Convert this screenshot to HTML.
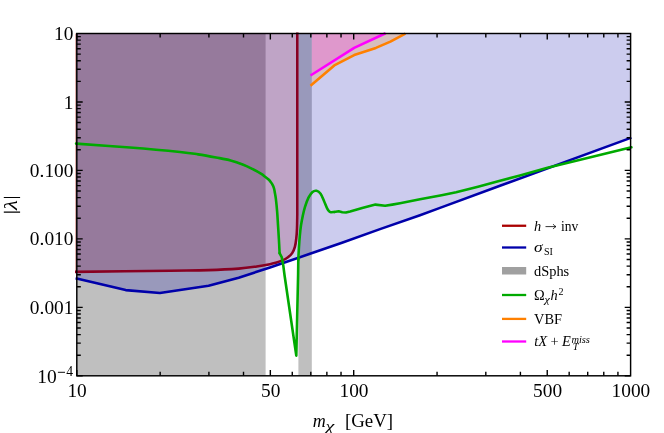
<!DOCTYPE html>
<html><head><meta charset="utf-8"><title>plot</title>
<style>html,body{margin:0;padding:0;background:#fff;}body{width:664px;height:433px;position:relative;overflow:hidden;font-family:"Liberation Serif",serif;}</style></head>
<body>
<svg width="664" height="433" viewBox="0 0 664 433" style="position:absolute;left:0;top:0;will-change:transform">
<defs><clipPath id="cp"><rect x="74.80" y="33.50" width="555.80" height="342.30"/></clipPath></defs>
<g clip-path="url(#cp)">
<rect x="76.80" y="33.50" width="188.80" height="342.30" fill="#808080" fill-opacity="0.5"/>
<rect x="298.40" y="33.50" width="13.40" height="342.30" fill="#808080" fill-opacity="0.5"/>
<rect x="75.05" y="33.10" width="1.75" height="238.40" fill="#dcaca8"/>
<path d="M76.80 271.90 C92.33 271.70 148.03 271.00 170.00 270.70 C191.97 270.40 197.15 270.45 208.60 270.10 C220.05 269.75 230.68 269.20 238.70 268.60 C246.72 268.00 251.48 267.23 256.70 266.50 C261.92 265.77 266.87 264.82 270.00 264.20 C273.13 263.58 273.42 263.43 275.50 262.80 C277.58 262.17 280.42 261.33 282.50 260.40 C284.58 259.47 286.38 258.42 288.00 257.20 C289.62 255.98 291.05 254.82 292.20 253.10 C293.35 251.38 294.22 249.33 294.90 246.90 C295.58 244.47 295.95 241.50 296.30 238.50 C296.65 235.50 296.83 232.82 297.00 228.90 C297.17 224.98 297.25 217.32 297.30 215.00 L297.30 31.50 L76.80 31.50 Z" fill="#aa0000" fill-opacity="0.2"/>
<path d="M76.60 278.40 L125.70 290.10 L159.90 293.00 L208.60 285.80 L238.70 277.70 L270.00 267.50 L310.00 253.80 L342.00 242.80 L380.00 229.10 L420.00 215.20 L440.00 207.85 L500.00 185.70 L631.40 137.60 L632.60 31.50 L76.60 31.50 Z" fill="#0000aa" fill-opacity="0.2"/>
<path d="M311.80 85.00 L334.30 65.40 L354.20 55.10 L375.90 47.90 L390.40 41.60 L405.40 33.60 L311.80 31.50 Z" fill="#ff8000" fill-opacity="0.2"/>
<path d="M311.80 74.80 L354.20 47.90 L385.60 33.20 L311.80 31.50 Z" fill="#ff00ff" fill-opacity="0.2"/>
</g>
<path d="M75.00 271.90 C90.83 271.70 147.73 271.00 170.00 270.70 C192.27 270.40 197.15 270.45 208.60 270.10 C220.05 269.75 230.68 269.20 238.70 268.60 C246.72 268.00 251.48 267.23 256.70 266.50 C261.92 265.77 266.87 264.82 270.00 264.20 C273.13 263.58 273.42 263.43 275.50 262.80 C277.58 262.17 280.42 261.33 282.50 260.40 C284.58 259.47 286.38 258.42 288.00 257.20 C289.62 255.98 291.05 254.82 292.20 253.10 C293.35 251.38 294.22 249.33 294.90 246.90 C295.58 244.47 295.95 241.50 296.30 238.50 C296.65 235.50 296.83 232.82 297.00 228.90 C297.17 224.98 297.25 217.32 297.30 215.00 L297.30 32.40" stroke="#880022" fill="none" stroke-width="2.6" stroke-linejoin="round"/>
<path d="M75.60 278.30 L125.70 290.10 L159.90 293.00 L208.60 285.80 L238.70 277.70 L270.00 267.50 L310.00 253.80 L342.00 242.80 L380.00 229.10 L420.00 215.20 L440.00 207.85 L500.00 185.70 L631.40 137.60" stroke="#0000aa" fill="none" stroke-width="2.6" stroke-linejoin="round"/>
<path d="M76.10 143.65 C85.08 144.29 112.68 146.11 130.00 147.50 C147.32 148.89 168.65 150.85 180.00 152.00 C191.35 153.15 192.08 153.48 198.10 154.40 C204.12 155.32 210.68 156.50 216.10 157.50 C221.52 158.50 226.07 159.20 230.60 160.40 C235.13 161.60 239.68 163.28 243.30 164.70 C246.92 166.12 249.30 167.37 252.30 168.90 C255.30 170.43 259.28 172.68 261.30 173.90 C263.32 175.12 263.18 175.27 264.40 176.20 C265.62 177.13 267.60 178.60 268.60 179.50 C269.60 180.40 269.80 180.82 270.40 181.60 C271.00 182.38 271.60 183.08 272.20 184.20 C272.80 185.32 273.55 186.83 274.00 188.30 C274.45 189.77 274.58 191.20 274.90 193.00 C275.22 194.80 275.53 196.08 275.90 199.10 C276.27 202.12 276.75 206.78 277.10 211.10 C277.45 215.42 277.70 220.27 278.00 225.00 C278.30 229.73 278.63 234.80 278.90 239.50 C279.17 244.20 279.48 250.92 279.60 253.20" stroke="#00aa00" stroke-linecap="round" fill="none" stroke-width="2.6" stroke-linejoin="round"/>
<path d="M279.60 253.20 L281.80 257.40 L283.20 264.90 L284.50 275.00 L296.30 355.60 L298.10 275.00 L298.30 259.60" stroke="#00aa00" stroke-linecap="round" fill="none" stroke-width="2.6" stroke-linejoin="round"/>
<path d="M298.30 259.60 C298.40 257.68 298.65 252.03 298.90 248.10 C299.15 244.17 299.45 239.78 299.80 236.00 C300.15 232.22 300.52 228.70 301.00 225.40 C301.48 222.10 302.03 219.28 302.70 216.20 C303.37 213.12 304.03 209.98 305.00 206.90 C305.97 203.82 307.25 200.20 308.50 197.70 C309.75 195.20 311.15 193.05 312.50 191.90 C313.85 190.75 315.25 190.50 316.60 190.80 C317.95 191.10 319.35 191.97 320.60 193.70 C321.85 195.43 323.03 198.80 324.10 201.20 C325.17 203.60 326.15 206.40 327.00 208.10 C327.85 209.80 328.57 210.72 329.20 211.40 C329.83 212.08 329.97 212.10 330.80 212.20 C331.63 212.30 333.63 212.03 334.20 212.00" stroke="#00aa00" stroke-linecap="round" fill="none" stroke-width="2.6" stroke-linejoin="round"/>
<path d="M334.20 212.00 L338.70 211.30 L342.30 212.20 L345.90 212.50 L350.10 211.50 L362.20 208.00 L375.40 204.60 L385.10 205.80 L392.30 204.60 L400.00 203.20 L420.00 199.30 L441.60 195.20 L456.10 192.30 L478.00 186.70 L500.00 180.80 L520.00 175.40 L547.50 167.80 L629.40 147.80 L631.40 147.30" stroke="#00aa00" stroke-linecap="round" fill="none" stroke-width="2.6" stroke-linejoin="round"/>
<path d="M310.50 85.80 L334.30 65.40 L354.20 55.10 L375.90 47.90 L390.40 41.60 L405.40 33.60" stroke="#ff8000" fill="none" stroke-width="2.6" stroke-linejoin="round"/>
<path d="M310.50 75.50 L354.20 47.90 L385.60 33.20" stroke="#ff00ff" fill="none" stroke-width="2.6" stroke-linejoin="round"/>
<path d="M76.80 375.80v-5.90M76.80 33.50v5.90M160.16 375.80v-4.00M160.16 33.50v4.00M208.91 375.80v-4.00M208.91 33.50v4.00M243.51 375.80v-4.00M243.51 33.50v4.00M270.34 375.80v-5.90M270.34 33.50v5.90M292.27 375.80v-4.00M292.27 33.50v4.00M310.81 375.80v-4.00M310.81 33.50v4.00M326.87 375.80v-4.00M326.87 33.50v4.00M341.03 375.80v-4.00M341.03 33.50v4.00M353.70 375.80v-5.90M353.70 33.50v5.90M437.06 375.80v-4.00M437.06 33.50v4.00M485.81 375.80v-4.00M485.81 33.50v4.00M520.41 375.80v-4.00M520.41 33.50v4.00M547.24 375.80v-5.90M547.24 33.50v5.90M569.17 375.80v-4.00M569.17 33.50v4.00M587.71 375.80v-4.00M587.71 33.50v4.00M603.77 375.80v-4.00M603.77 33.50v4.00M617.93 375.80v-4.00M617.93 33.50v4.00M76.80 375.80h5.90M630.60 375.80h-5.90M76.80 355.19h4.00M630.60 355.19h-4.00M76.80 343.14h4.00M630.60 343.14h-4.00M76.80 334.58h4.00M630.60 334.58h-4.00M76.80 327.95h4.00M630.60 327.95h-4.00M76.80 322.53h4.00M630.60 322.53h-4.00M76.80 317.94h4.00M630.60 317.94h-4.00M76.80 313.97h4.00M630.60 313.97h-4.00M76.80 310.47h4.00M630.60 310.47h-4.00M76.80 307.34h5.90M630.60 307.34h-5.90M76.80 286.73h4.00M630.60 286.73h-4.00M76.80 274.68h4.00M630.60 274.68h-4.00M76.80 266.12h4.00M630.60 266.12h-4.00M76.80 259.49h4.00M630.60 259.49h-4.00M76.80 254.07h4.00M630.60 254.07h-4.00M76.80 249.48h4.00M630.60 249.48h-4.00M76.80 245.51h4.00M630.60 245.51h-4.00M76.80 242.01h4.00M630.60 242.01h-4.00M76.80 238.88h5.90M630.60 238.88h-5.90M76.80 218.27h4.00M630.60 218.27h-4.00M76.80 206.22h4.00M630.60 206.22h-4.00M76.80 197.66h4.00M630.60 197.66h-4.00M76.80 191.03h4.00M630.60 191.03h-4.00M76.80 185.61h4.00M630.60 185.61h-4.00M76.80 181.02h4.00M630.60 181.02h-4.00M76.80 177.05h4.00M630.60 177.05h-4.00M76.80 173.55h4.00M630.60 173.55h-4.00M76.80 170.42h5.90M630.60 170.42h-5.90M76.80 149.81h4.00M630.60 149.81h-4.00M76.80 137.76h4.00M630.60 137.76h-4.00M76.80 129.20h4.00M630.60 129.20h-4.00M76.80 122.57h4.00M630.60 122.57h-4.00M76.80 117.15h4.00M630.60 117.15h-4.00M76.80 112.56h4.00M630.60 112.56h-4.00M76.80 108.59h4.00M630.60 108.59h-4.00M76.80 105.09h4.00M630.60 105.09h-4.00M76.80 101.96h5.90M630.60 101.96h-5.90M76.80 81.35h4.00M630.60 81.35h-4.00M76.80 69.30h4.00M630.60 69.30h-4.00M76.80 60.74h4.00M630.60 60.74h-4.00M76.80 54.11h4.00M630.60 54.11h-4.00M76.80 48.69h4.00M630.60 48.69h-4.00M76.80 44.10h4.00M630.60 44.10h-4.00M76.80 40.13h4.00M630.60 40.13h-4.00M76.80 36.63h4.00M630.60 36.63h-4.00" stroke="#000" stroke-width="1.4" fill="none"/>
<rect x="76.80" y="33.50" width="553.80" height="342.30" fill="none" stroke="#000" stroke-width="1.45"/>
<g font-family="Liberation Serif, serif" font-size="19.5" fill="#000" opacity="0.999"><text transform="translate(77.10,397.10) scale(0.975,1)" text-anchor="middle" font-size="19.85">10</text><text transform="translate(270.64,397.10) scale(0.975,1)" text-anchor="middle" font-size="19.85">50</text><text transform="translate(354.00,397.10) scale(0.975,1)" text-anchor="middle" font-size="19.85">100</text><text transform="translate(547.54,397.10) scale(0.975,1)" text-anchor="middle" font-size="19.85">500</text><text transform="translate(630.90,397.10) scale(0.975,1)" text-anchor="middle" font-size="19.85">1000</text><text transform="translate(73.40,40.10) scale(0.975,1)" text-anchor="end" font-size="19.85">10</text><text transform="translate(73.40,108.56) scale(0.975,1)" text-anchor="end" font-size="19.85">1</text><text transform="translate(73.40,177.02) scale(0.975,1)" text-anchor="end" font-size="19.85">0.100</text><text transform="translate(73.40,245.48) scale(0.975,1)" text-anchor="end" font-size="19.85">0.010</text><text transform="translate(73.40,313.94) scale(0.975,1)" text-anchor="end" font-size="19.85">0.001</text><text x="56.8" y="382.70" text-anchor="end">10</text><path d="M57.9 372.3H65.0" stroke="#000" stroke-width="0.95" fill="none"/><text x="73.0" y="376.00" text-anchor="end" font-size="13.6">4</text>
<text x="312.7" y="427.4" font-style="italic" textLength="13.0" lengthAdjust="spacingAndGlyphs">m</text>
<text transform="translate(325.4,431.2) scale(1.45,1.05)" font-style="italic" font-size="13.8">χ</text>
<text x="344.9" y="427.4" font-size="18.9">[GeV]</text>
<path d="M3.8 197.4H20.1M3.8 212.1H20.1" stroke="#000" stroke-width="1.05" fill="none"/>
<text transform="translate(17.0,210.0) rotate(-90) scale(1.17,1)" font-style="italic">λ</text>
</g>
<path d="M502 225.75H526.2" stroke="#aa0000" stroke-width="2.3"/><path d="M502 247.50H526.2" stroke="#0000aa" stroke-width="2.3"/><rect x="502" y="267.00" width="24.2" height="7.5" fill="#a0a0a0"/><path d="M502 295.00H526.2" stroke="#00aa00" stroke-width="2.3"/><path d="M502 318.90H526.2" stroke="#ff8000" stroke-width="2.3"/><path d="M502 341.50H526.2" stroke="#ff00ff" stroke-width="2.3"/>
<g font-family="Liberation Serif, serif" font-size="14.4" fill="#000" opacity="0.999">
<text x="534" y="230.6" font-style="italic">h</text>
<path d="M545.9 226.6H555.4M553.4 224.5Q554.3 226 556.0 226.6Q554.3 227.2 553.4 228.7" stroke="#000" stroke-width="0.8" fill="none" stroke-linecap="round" stroke-linejoin="round"/>
<text x="561.0" y="230.6" textLength="17.3" lengthAdjust="spacingAndGlyphs">inv</text>
<text transform="translate(534,252.2) scale(1.22,1)" font-style="italic">σ</text>
<text x="544.0" y="254.8" font-size="10.1">SI</text>
<text x="534" y="275.9">dSphs</text>
<text x="534" y="300.0">Ω</text>
<text transform="translate(544.4,302.8) scale(1.2,1)" font-style="italic" font-size="10.1">χ</text>
<text x="550.6" y="300.0" font-style="italic">h</text>
<text x="558.4" y="294.6" font-size="10.1">2</text>
<text x="534" y="323.6">VBF</text>
<text x="534.2" y="346.2" font-style="italic">tX</text>
<text x="550.6" y="346.2">+</text>
<text x="562.0" y="346.2" font-style="italic">E</text>
<text x="571.4" y="342.8" font-style="italic" font-size="10.4">miss</text>
<text x="572.8" y="349.9" font-style="italic" font-size="10.4">T</text>
</g>
</svg>
</body></html>
